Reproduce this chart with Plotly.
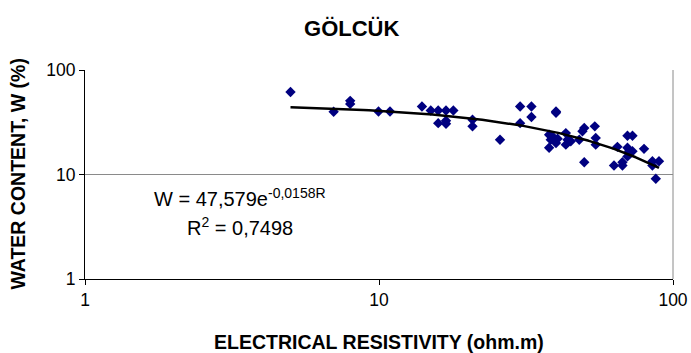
import numpy as np
import plotly.graph_objects as go

# Measured data: electrical resistivity (ohm.m) vs water content W (%)
resistivity = [5.00, 7.01, 7.98, 7.98, 9.96, 10.9, 14.0, 15.0, 15.9, 16.9, 17.9,
               15.9, 16.9, 16.9, 20.8, 20.8, 25.8, 30.2, 33.0, 33.0, 30.2,
               40.0, 40.0, 37.9, 38.4, 39.4, 37.9, 40.0, 43.2, 43.8, 43.2,
               44.9, 48.0, 49.2, 49.9, 49.9, 54.2, 54.6, 54.6, 64.7, 63.0,
               67.3, 67.3, 70.0, 72.8, 70.0, 70.9, 70.0, 72.8, 79.7, 85.1,
               89.6, 85.1, 87.4, 40.5, 38.8]
water_content = [61.6, 39.8, 50.7, 47.4, 40.1, 40.1, 44.7, 40.9, 40.9, 40.9, 40.9,
                 31.0, 32.7, 30.6, 33.4, 28.9, 21.5, 44.7, 44.7, 35.5, 31.0,
                 40.1, 38.9, 24.0, 21.5, 22.4, 18.0, 20.0, 24.9, 21.5, 19.3,
                 20.8, 21.5, 25.9, 27.9, 13.1, 28.9, 22.4, 19.3, 18.4, 12.2,
                 13.1, 12.2, 23.5, 23.5, 18.0, 16.7, 14.9, 16.7, 17.6, 13.4,
                 13.4, 12.2, 9.1, 22.0, 23.0]

# Exponential trendline as printed on the chart: W = a * exp(b * R)
trend_a = 47.579
trend_b = -0.0158
trend_r_min = 5.0
trend_r_max = 89.6

equation_text = "W = 47,579e<sup>-0,0158R</sup>"
r2_text = "R<sup>2</sup> = 0,7498"

tick_vals = [1, 10, 100]
tick_text = ["1", "10", "100"]

trend_r = np.linspace(trend_r_min, trend_r_max, 200)
trend_w = trend_a * np.exp(trend_b * trend_r)

font_family = "Liberation Sans, Arial, sans-serif"

fig = go.Figure()
fig.add_trace(go.Scatter(
    x=resistivity, y=water_content, mode="markers",
    marker=dict(symbol="diamond", size=8, color="#000080"),
    showlegend=False, hoverinfo="skip"))
fig.add_trace(go.Scatter(
    x=trend_r, y=trend_w, mode="lines",
    line=dict(color="black", width=2.5),
    showlegend=False, hoverinfo="skip"))

fig.update_layout(
    width=691, height=353,
    margin=dict(l=85, r=18, t=70, b=74, autoexpand=False),
    paper_bgcolor="white", plot_bgcolor="white",
    font=dict(family=font_family, color="black"),
    title=dict(text="<b>GÖLCÜK</b>", x=0.509, xref="container",
               y=1 - 28 / 353, yref="container", yanchor="middle", xanchor="center",
               font=dict(size=22, family=font_family, color="black")),
    xaxis=dict(type="log", range=[0, 2], tickvals=tick_vals, ticktext=tick_text,
               showgrid=False, showline=True, linecolor="black", linewidth=1,
               ticks="outside", ticklen=5, tickcolor="black", automargin=False,
               tickfont=dict(size=17.5), zeroline=False),
    yaxis=dict(type="log", range=[0, 2], tickvals=tick_vals, ticktext=tick_text,
               showgrid=True, gridcolor="#8a8a8a", gridwidth=1,
               showline=True, linecolor="black", linewidth=1, automargin=False,
               ticks="outside", ticklen=5, tickcolor="black",
               tickfont=dict(size=17.5), zeroline=False),
    shapes=[dict(type="line", xref="paper", yref="paper", x0=1, x1=1, y0=0, y1=1,
                 line=dict(color="#8a8a8a", width=1))],
    annotations=[
        dict(text="<b>ELECTRICAL RESISTIVITY (ohm.m)</b>", xref="paper", yref="paper",
             x=0.5, y=(279.3 - 342) / 209.3, xanchor="center", yanchor="middle",
             showarrow=False, font=dict(size=19.5)),
        dict(text="<b>WATER CONTENT, W (%)</b>", xref="paper", yref="paper",
             x=(17 - 85) / 588.5, y=0.5, xanchor="center", yanchor="middle",
             textangle=-90, showarrow=False, font=dict(size=19.5)),
        dict(text=equation_text, xref="paper", yref="paper",
             x=(240 - 85) / 588.5, y=(279.3 - 198) / 209.3,
             xanchor="center", yanchor="middle", showarrow=False,
             font=dict(size=20)),
        dict(text=r2_text, xref="paper", yref="paper",
             x=(240.5 - 85) / 588.5, y=(279.3 - 227) / 209.3,
             xanchor="center", yanchor="middle", showarrow=False,
             font=dict(size=20)),
    ],
)

fig.write_html("out.html")
